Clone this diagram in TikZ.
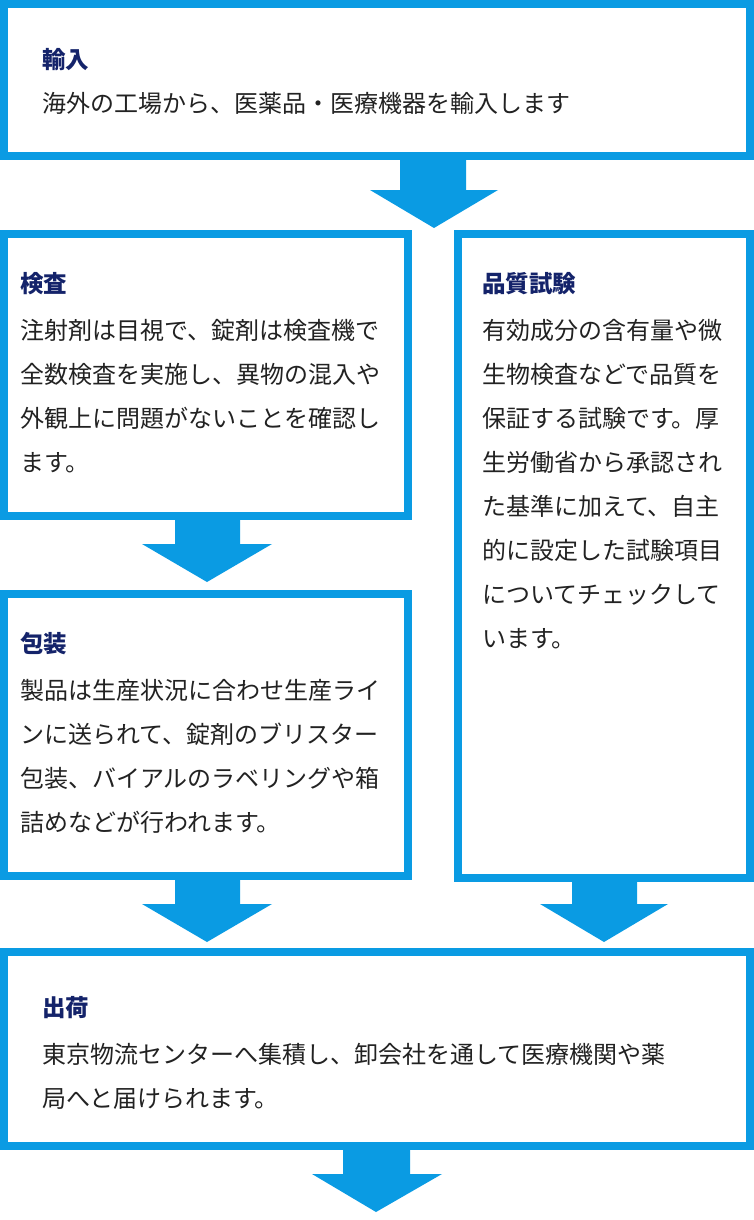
\documentclass[tikz,border=0pt]{standalone}
\usepackage{fontspec}
\newfontfamily\jp{Noto Sans CJK JP}
\definecolor{bl}{HTML}{0A9BE3}
\definecolor{nv}{HTML}{14236A}
\definecolor{tx}{HTML}{222222}
\begin{document}
\begin{tikzpicture}[x=1pt,y=-1pt,
 box/.style={draw=bl,line width=8pt,fill=white},
 ttl/.style={anchor=base west,inner sep=0,font=\jp\bfseries\fontsize{23.5}{28}\selectfont,text=nv},
 bdy/.style={anchor=base west,inner sep=0,font=\jp\fontsize{24}{28}\selectfont,text=tx},
 arr/.style={fill=bl}]
\useasboundingbox (0,0) rectangle (754,1220);
\draw[box] (4,4) rectangle (750,156);
\draw[box] (4,234) rectangle (408,516);
\draw[box] (458,234) rectangle (750,878);
\draw[box] (4,594) rectangle (408,876);
\draw[box] (4,952) rectangle (750,1146);
\node[ttl] (t1) at (42,69) {輸入};
\node[bdy] (b1) at (42,113) {海外の工場から、医薬品・医療機器を輸入します};
\node[ttl] (t2) at (20,292) {検査};
\foreach \t [count=\i] in {注射剤は目視で、錠剤は検査機で,全数検査を実施し、異物の混入や,外観上に問題がないことを確認し,ます。}
  \node[bdy] (b2-\i) at (20,339+44*\i-44) {\t};
\node[ttl] (t3) at (482,292) {品質試験};
\foreach \t [count=\i] in {有効成分の含有量や微,生物検査などで品質を,保証する試験です。厚,生労働省から承認され,た基準に加えて、自主,的に設定した試験項目,についてチェックして,います。}
  \node[bdy] (b3-\i) at (482,339+44*\i-44) {\t};
\node[ttl] (t4) at (20,652) {包装};
\foreach \t [count=\i] in {製品は生産状況に合わせ生産ライ,ンに送られて、錠剤のブリスター,包装、バイアルのラベリングや箱,詰めなどが行われます。}
  \node[bdy] (b4-\i) at (20,699+44*\i-44) {\t};
\node[ttl] (t5) at (42,1016) {出荷};
\node[bdy] (b5-1) at (42,1063) {東京物流センターへ集積し、卸会社を通して医療機関や薬};
\node[bdy] (b5-2) at (42,1107) {局へと届けられます。};
\fill[arr] (400,160) -- (466,160) -- (466,190) -- (498,190) -- (434,228) -- (370,190) -- (400,190) -- cycle;
\fill[arr] (175,520) -- (240,520) -- (240,544) -- (272,544) -- (207,582) -- (142,544) -- (175,544) -- cycle;
\fill[arr] (175,880) -- (240,880) -- (240,904) -- (272,904) -- (207,942) -- (142,904) -- (175,904) -- cycle;
\fill[arr] (572,882) -- (637,882) -- (637,904) -- (668,904) -- (604,942) -- (540,904) -- (572,904) -- cycle;
\fill[arr] (343,1150) -- (410,1150) -- (410,1174) -- (442,1174) -- (376,1212) -- (312,1174) -- (343,1174) -- cycle;
\end{tikzpicture}
\end{document}
